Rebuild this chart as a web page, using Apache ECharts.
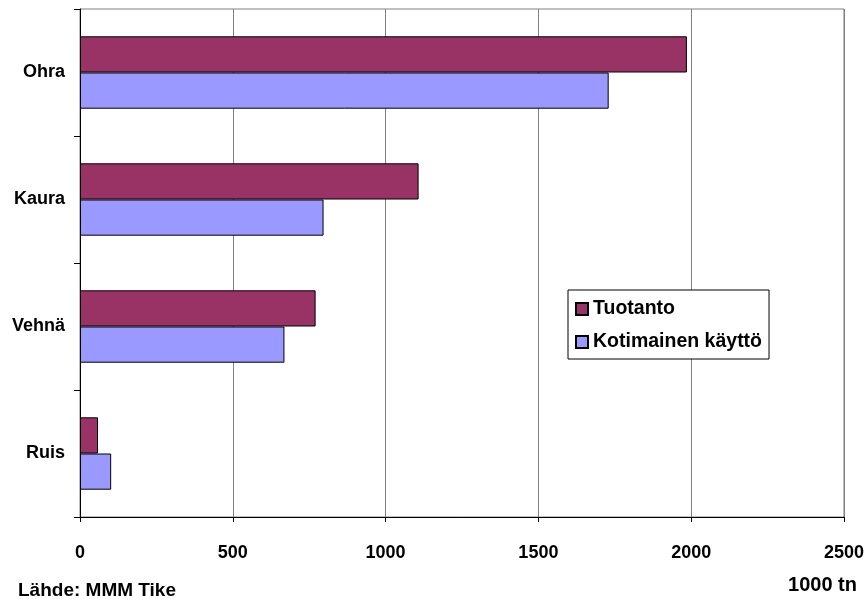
<!DOCTYPE html>
<html>
<head>
<meta charset="utf-8">
<script src="https://cdn.jsdelivr.net/npm/echarts@6/dist/echarts.min.js"></script>
<style>
    html, body { margin: 0; padding: 0; background: #fff; }
    #bar-chart { width: 867px; height: 599px; }
</style>
</head>
<body>
<div id="bar-chart"></div>
<script>
// data (bottom to top, like the chart)
const categories = ["Ruis", "Vehnä", "Kaura", "Ohra"];
const tuotanto = [59, 771, 1108, 1986];
const kotimainenKaytto = [102, 669, 797, 1730];
const xTicks = [0, 500, 1000, 1500, 2000, 2500];

const labelFont = {
    fontFamily: "Liberation Sans, Arial, sans-serif",
    fontWeight: "bold",
    fontSize: 18,
    color: "#000",
};

const chart = echarts.init(document.getElementById("bar-chart"));

chart.setOption({
    animation: false,
    grid: {
        left: 80,
        right: 23,
        top: 9,
        bottom: 82,
        show: true,
        borderColor: "#808080",
        borderWidth: 1,
    },
    legend: {
        data: ["Tuotanto", "Kotimainen käyttö"],
        orient: "vertical",
        left: 568,
        top: 290,
        padding: [9, 7, 7, 7],
        itemGap: 13,
        itemWidth: 12,
        itemHeight: 12,
        itemTextGap: 8,
        icon: "rect",
        backgroundColor: "#fff",
        borderColor: "#000",
        borderWidth: 1,
        textStyle: Object.assign({}, labelFont, { fontSize: 19.5 }),
    },
    xAxis: {
        type: "value",
        min: xTicks[0],
        max: xTicks[xTicks.length - 1],
        interval: xTicks[1] - xTicks[0],
        axisLine: { show: true, lineStyle: { color: "#000", width: 1 } },
        axisTick: { show: true, length: 5, lineStyle: { color: "#000" } },
        axisLabel: Object.assign({ margin: 27, formatter: (v) => String(v) }, labelFont),
        splitLine: { show: true, lineStyle: { color: "#808080", width: 1 } },
    },
    yAxis: {
        type: "category",
        data: categories,
        axisLine: { show: true, lineStyle: { color: "#000", width: 1 } },
        axisTick: { show: true, length: 6, lineStyle: { color: "#000" } },
        axisLabel: Object.assign({ margin: 15 }, labelFont),
        splitLine: { show: false },
    },
    series: [
        {
            name: "Tuotanto",
            type: "bar",
            data: tuotanto,
            barGap: "0%",
            barCategoryGap: "43%",
            itemStyle: { color: "#993366", borderColor: "#000", borderWidth: 1 },
        },
        {
            name: "Kotimainen käyttö",
            type: "bar",
            data: kotimainenKaytto,
            barGap: "0%",
            barCategoryGap: "43%",
            itemStyle: { color: "#9999FF", borderColor: "#000", borderWidth: 1 },
        },
    ],
    graphic: [
        {
            type: "text",
            left: 18,
            top: 581,
            style: {
                text: "Lähde: MMM Tike",
                font: "bold 19px Liberation Sans, Arial, sans-serif",
                fill: "#000",
            },
        },
        {
            type: "text",
            right: 10,
            top: 575,
            style: {
                text: "1000 tn",
                font: "bold 20px Liberation Sans, Arial, sans-serif",
                fill: "#000",
            },
        },
    ],
});
</script>
</body>
</html>
